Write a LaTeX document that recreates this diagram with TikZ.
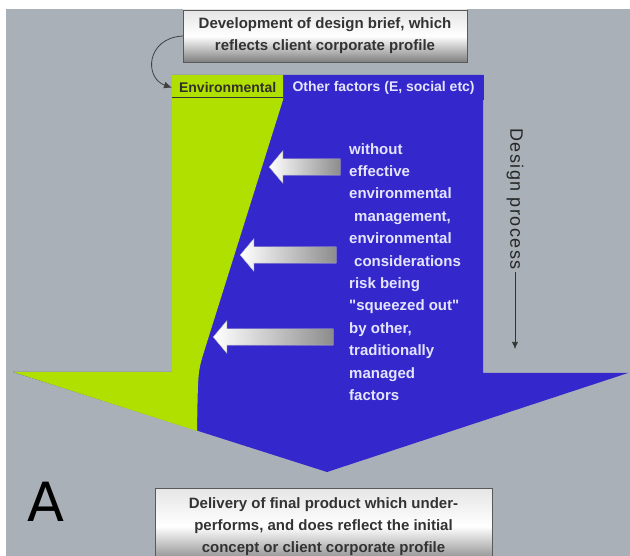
\documentclass[tikz,border=0pt]{standalone}
\usepackage{fontspec}
\setmainfont{Liberation Sans}
\newfontfamily\panelfont{DejaVu Sans}
\newfontfamily\spacedfont[LetterSpace=8]{Liberation Sans}
\usetikzlibrary{shapes.arrows, arrows.meta, positioning}
\definecolor{bggrey}{RGB}{170,176,183}
\definecolor{envgreen}{RGB}{176,224,0}
\definecolor{procblue}{RGB}{52,40,204}
\definecolor{lavender}{RGB}{228,228,255}

\begin{document}
\begin{tikzpicture}[
  x=1pt, y=-1pt,
  briefbox/.style={rectangle, draw=black!65, top color=black!10, bottom color=black!50, middle color=white,
                   align=center, text=black!80, font=\fontsize{15}{22}\selectfont\bfseries},
  headcell/.style={rectangle, minimum height=25, inner sep=0, anchor=north west,
                   font=\fontsize{14}{14}\selectfont\bfseries},
  squeeze/.style={single arrow, shape border rotate=180, inner sep=0, inner ysep=8,
                  single arrow head extend=8, single arrow tip angle=100, anchor=tip,
                  draw=black!25, left color=white, right color=black!45},
  arrow/.style={-{Latex[length=8pt, width=7pt]}, thick, color=black!75}
]
\useasboundingbox (0,0) rectangle (630,556);
\clip (0,0) rectangle (630,556);
\fill[white] (0,0) rectangle (630,556);
\fill[bggrey] (6,9) rectangle (630,556);

% big arrow: blue body, green wedge on top
\fill[procblue] (172,75) -- (483,75) -- (483,373) -- (628,373) -- (327,472) -- (13,372) -- (172,372) -- cycle;
\fill[envgreen] (172,75) -- (283,75) -- (283,100) -- (203,355) .. controls (198,372) .. (197,431)
  -- (13,372) -- (172,372) -- cycle;

\node[headcell, fill=envgreen, minimum width=111, text=black!85!olive] (envhead) at (172,75) {Environmental};
\node[headcell, fill=procblue, minimum width=200, text=lavender] (otherhead) at (envhead.north east) {Other factors (E, social etc)};
\draw[black!80, thick] ([yshift=3pt]envhead.south west) -- ([yshift=3pt]envhead.south east);

\node[briefbox, minimum width=284, minimum height=52] (brief) at (325,36)
  {Development of design brief, which\\reflects client corporate profile};
\node[briefbox, minimum width=337, minimum height=76, anchor=north] (delivery) at (323.5,488)
  {Delivery of final product which under-\\performs, and does reflect the initial\\concept or client corporate profile};

\draw[arrow] (brief.west) .. controls (146,38) and (144,78) .. (envhead.west);

\node[squeeze, minimum height=71] (push1) at (269,167) {};
\node[squeeze, minimum height=96] (push2) at (240,255) {};
\node[squeeze, minimum height=120] (push3) at (213,337) {};

\node[anchor=north west, align=left, inner sep=0, text=lavender,
      font=\fontsize{15}{22.4}\selectfont\bfseries] (reason) at (349,143)
  {without\\effective\\environmental\\\hspace*{5pt}management,\\environmental\\\hspace*{5pt}considerations\\risk being\\\textquotedbl squeezed out\textquotedbl\\by other,\\traditionally\\managed\\factors};

\node[rotate=-90, inner sep=2, text=black!85, font=\spacedfont\fontsize{18}{18}\selectfont] (design) at (515,199) {Design process};
\coordinate (designend) at (515,349);
\draw[-{Latex[length=7pt, width=6pt]}, semithick, black!80] (design.east) -- (designend);

\node[font=\panelfont\fontsize{54}{54}\selectfont] (panel) at (46,502) {A};
\end{tikzpicture}
\end{document}
